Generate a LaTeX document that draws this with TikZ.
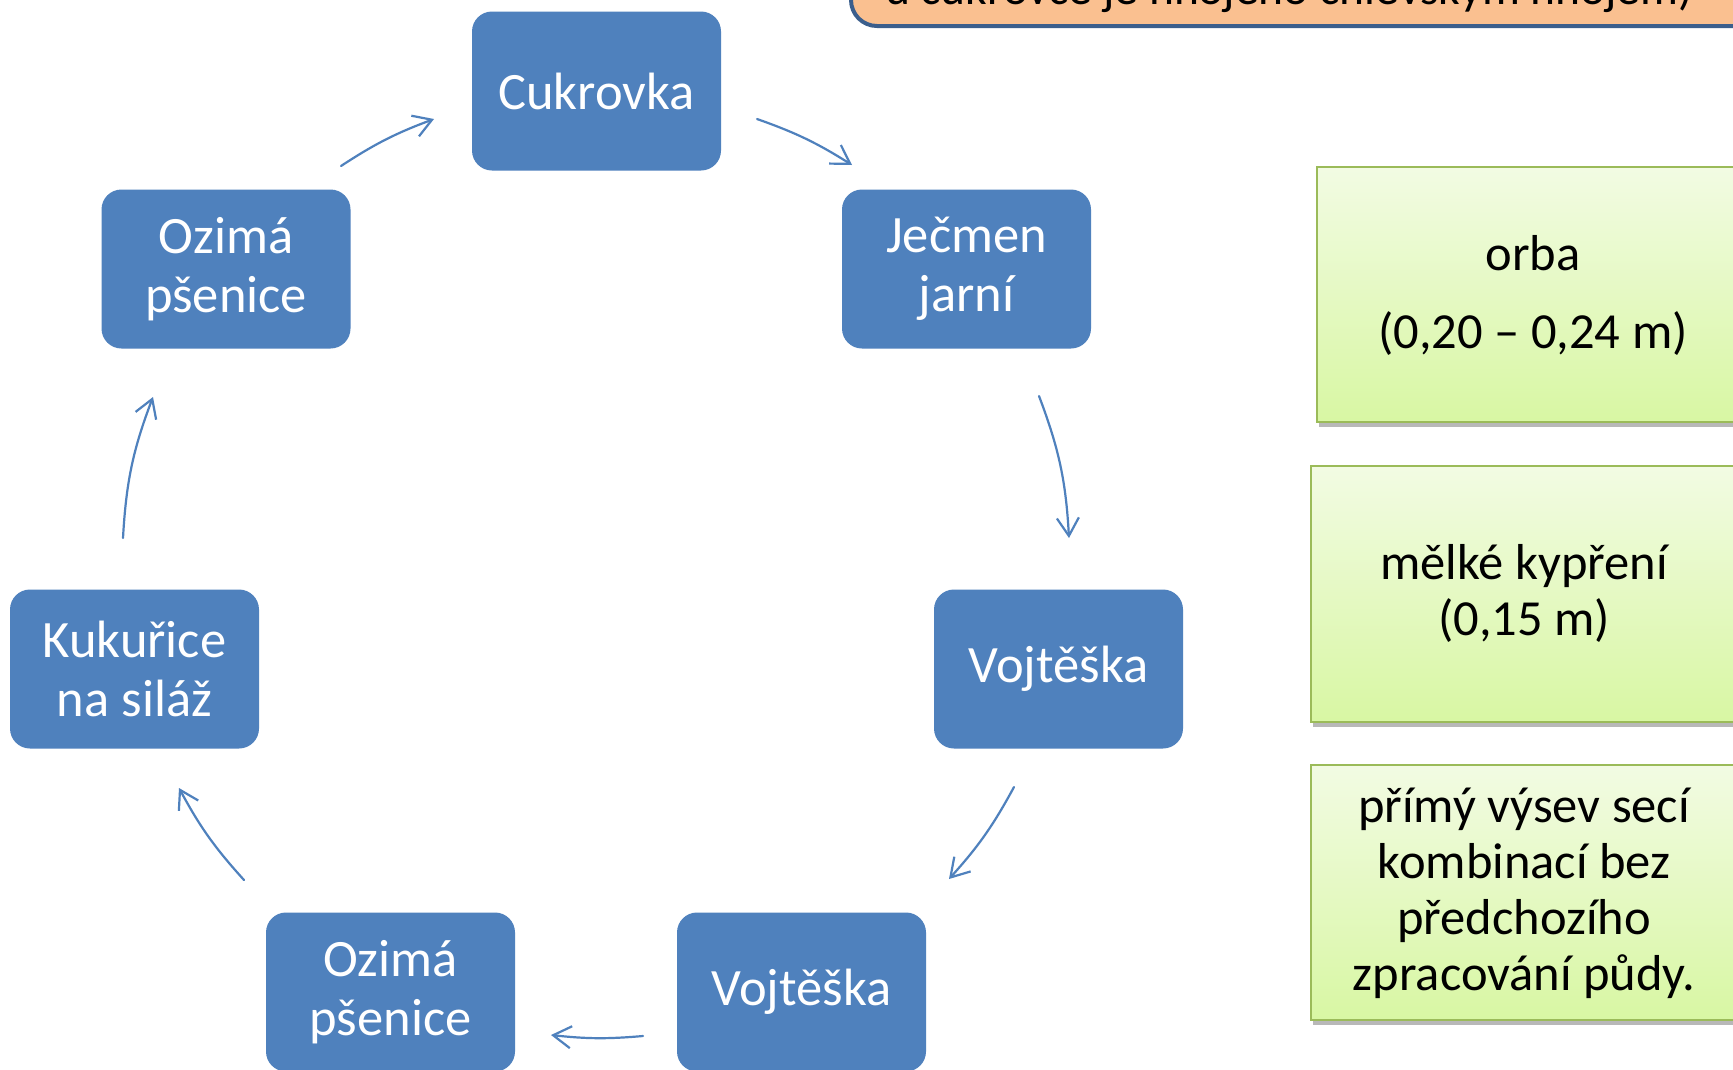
\documentclass[tikz,border=0pt]{standalone}
\usepackage{fontspec}
\setmainfont{Carlito}
\usetikzlibrary{arrows.meta}
\definecolor{boxblue}{HTML}{4F81BD}
\definecolor{greenborder}{HTML}{9BBB59}
\definecolor{greentop}{HTML}{F2FBE3}
\definecolor{greenbot}{HTML}{D8F7A3}
\definecolor{orangefill}{HTML}{FAC090}
\definecolor{orangeborder}{HTML}{3B5E8C}
\begin{document}
\begin{tikzpicture}[x=1pt,y=1pt,
  cropbox/.style={rectangle, rounded corners=20pt, fill=boxblue, text=white,
    minimum width=249pt, minimum height=159pt, align=center, inner sep=0pt,
    font=\fontsize{52.5}{59}\selectfont},
  cyclearrow/.style={draw=boxblue, line width=2.2pt, line cap=round,
    -{Straight Barb[length=18pt,width=22pt]}},
  notebox/.style={draw=greenborder, line width=1.5pt, top color=greentop, bottom color=greenbot},
  noteshadow/.style={fill=black, opacity=0.28},
  notetext/.style={align=center, text=black, font=\fontsize{50.5}{56}\selectfont}
]
\useasboundingbox (0,0) rectangle (1733,-1069);
\fill[white] (0,0) rectangle (1733,-1069);
\clip (0,0) rectangle (1733,-1069);

% orange note box (cut off at the top)
\draw[fill=orangefill, draw=orangeborder, line width=4pt, rounded corners=26pt]
  (851,80) rectangle (1800,-26);
\node[anchor=base, text=black, font=\fontsize{47.5}{57}\selectfont] (topnote) at (1289,-4)
  {u cukrovce je hnojeno chlévským hnojem)};

% green boxes
\fill[noteshadow] (1319,-171) rectangle (1770,-427);
\draw[notebox] (1317,-167) rectangle (1770,-422);
\node[notetext] (g1) at (1533,-295) {orba\\[22pt](0,20 – 0,24 m)};

\fill[noteshadow] (1313,-470) rectangle (1770,-727);
\draw[notebox] (1311,-466) rectangle (1770,-722);
\node[notetext] (g2) at (1524,-593) {mělké kypření\\(0,15 m)};

\fill[noteshadow] (1313,-769) rectangle (1770,-1025);
\draw[notebox] (1311,-765) rectangle (1770,-1020);
\node[notetext] (g3) at (1524,-893.5) {přímý výsev secí\\kombinací bez\\předchozího\\zpracování půdy.};

% cycle nodes
\node[cropbox] (cuk)  at (596.5,-91)  {Cukrovka};
\node[cropbox] (jec)  at (966.5,-269) {Ječmen\\jarní};
\node[cropbox] (vojr) at (1058.5,-669) {Vojtěška};
\node[cropbox] (vojb) at (801.5,-992) {Vojtěška};
\node[cropbox] (ozb)  at (390.5,-992) {Ozimá\\pšenice};
\node[cropbox] (kuk)  at (134.5,-669) {Kukuřice\\na siláž};
\node[cropbox] (ozt)  at (226,-269)   {Ozimá\\pšenice};

% arrow end points on the cycle
\coordinate (a1s) at (757,-119);  \coordinate (a1e) at (852,-165);
\coordinate (a2s) at (1039,-396); \coordinate (a2e) at (1069,-538);
\coordinate (a3s) at (1014,-787); \coordinate (a3e) at (949,-879);
\coordinate (a4s) at (643,-1036); \coordinate (a4e) at (551,-1035);
\coordinate (a5s) at (244,-880);  \coordinate (a5e) at (179,-788);
\coordinate (a6s) at (123,-538);  \coordinate (a6e) at (153,-397);
\coordinate (a7s) at (341,-166);  \coordinate (a7e) at (434,-119);

\draw[cyclearrow] (a1s) to[bend left=6.4] (a1e);
\draw[cyclearrow] (a2s) to[bend left=8.8] (a2e);
\draw[cyclearrow] (a3s) to[bend left=6.8] (a3e);
\draw[cyclearrow] (a4s) to[bend left=5.6] (a4e);
\draw[cyclearrow] (a5s) to[bend left=6.9] (a5e);
\draw[cyclearrow] (a6s) to[bend left=8.8] (a6e);
\draw[cyclearrow] (a7s) to[bend left=6.4] (a7e);
\end{tikzpicture}
\end{document}
